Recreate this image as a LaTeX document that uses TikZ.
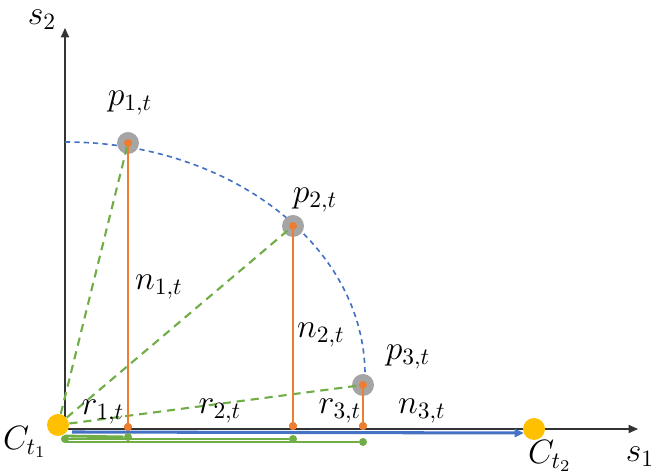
\documentclass[tikz,border=0pt]{standalone}
\usetikzlibrary{arrows.meta,positioning}

\definecolor{offblue}{RGB}{68,114,196}
\definecolor{offgreen}{RGB}{112,173,71}
\definecolor{offorange}{RGB}{237,125,49}
\definecolor{offgray}{RGB}{165,165,165}
\definecolor{offyellow}{RGB}{255,192,0}

\begin{document}
\begin{tikzpicture}[
    x=0.015cm, y=0.015cm,
    every node/.style={font=\Large, inner sep=0pt},
    centroid/.style={circle, fill=offyellow, minimum size=0.33cm},
    point/.style={circle, fill=offgray, minimum size=0.33cm},
    odot/.style={circle, fill=offorange, minimum size=0.12cm},
    gdot/.style={circle, fill=offgreen, minimum size=0.12cm},
    axis/.style={draw=black!80, line width=0.5pt, -{Triangle[length=4pt,width=3.5pt]}},
    arcline/.style={draw=offblue, line width=0.7pt, dash pattern=on 2.2pt off 1.8pt},
    gdash/.style={draw=offgreen, line width=0.9pt, dash pattern=on 3.5pt off 2.5pt},
    oline/.style={draw=offorange, line width=1pt},
    gline/.style={draw=offgreen, line width=0.8pt},
    barrow/.style={draw=offblue, line width=1.3pt, -{Triangle[length=4pt,width=3.5pt]}}
]
\useasboundingbox (0,0) rectangle (652,475);

% axes
\coordinate (o) at (65,46);
\coordinate (s1end) at (638,46);
\coordinate (s2end) at (65,447);
\draw[axis] (o) -- (s1end);
\draw[axis] (65,47) -- (s2end);
\node (s1) at (640,18) {$s_1$};
\node (s2) at (42,455) {$s_2$};

% dashed arc through the points
\coordinate (arctop) at (65,333);
\draw[arcline] (arctop) arc[start angle=90, end angle=0, x radius=300, y radius=233];

% centroids and points
\node[centroid] (ct1) at (58,50) {};
\node[point] (p1) at (128,332) {};
\node[point] (p2) at (293,249) {};
\node[point] (p3) at (363,90) {};

% feet of the projections
\node[odot] (f1) at (128,48) {};
\node[odot] (f2) at (293,49) {};
\node[odot] (f3) at (363,49) {};

% lines from the centroid
\draw[gdash] (ct1) -- (p1.center);
\draw[gdash] (ct1) -- (p2.center);
\draw[gdash] (ct1) -- (p3.center);
\draw[oline] (p1.center) -- (f1);
\draw[oline] (p2.center) -- (f2);
\draw[oline] (p3.center) -- (f3);

% moving centroid
\coordinate (bstart) at (72,43);
\coordinate (bend) at (524,42);
\draw[barrow] (bstart) -- (bend);
\node[centroid] (ct2) at (534,46) {};

% projected lengths
\node[gdot] (g0) at (65,36) {};
\node[gdot] (g1) at (128,38) {};
\node[gdot] (g2) at (293,36) {};
\node[gdot] (g3) at (363,33) {};
\draw[gline, line width=1.2pt] (65,39) -- (g1);
\draw[gline] (g0) -- (g2);
\draw[gline] (65,33) -- (g3);

\node[odot] (o1) at (p1) {};
\node[odot] (o2) at (p2) {};
\node[odot] (o3) at (p3) {};
\node[odot] at (f1) {};
\node[odot] at (f2) {};
\node[odot] at (f3) {};

% labels
\node (lp1) at (130,372) {$p_{1,t}$};
\node (lp2) at (315,275) {$p_{2,t}$};
\node (lp3) at (408,118) {$p_{3,t}$};
\node (ln1) at (159,188) {$n_{1,t}$};
\node (ln2) at (321,140) {$n_{2,t}$};
\node (ln3) at (422,64) {$n_{3,t}$};
\node (lr1) at (103,63) {$r_{1,t}$};
\node (lr2) at (220,64) {$r_{2,t}$};
\node (lr3) at (340,64) {$r_{3,t}$};
\node (lc1) at (25,33) {$C_{t_1}$};
\node (lc2) at (550,19) {$C_{t_2}$};

\end{tikzpicture}
\end{document}
